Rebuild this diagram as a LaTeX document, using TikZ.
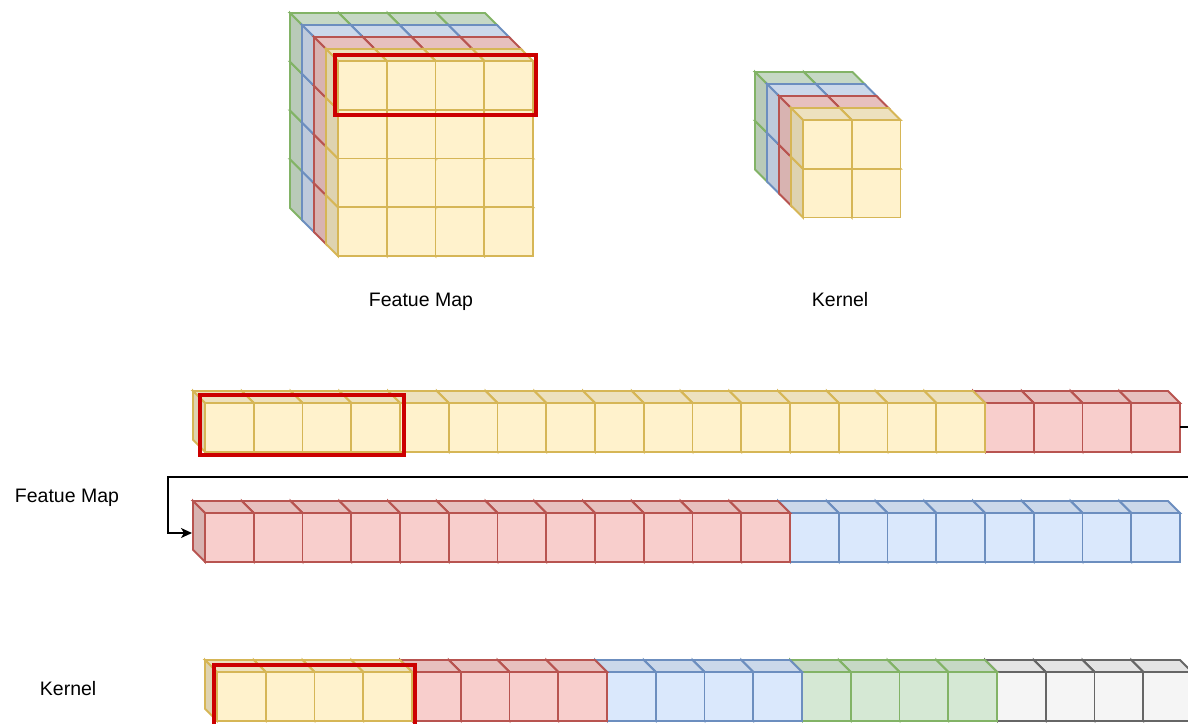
\documentclass[tikz,border=0pt]{standalone}
\usepackage{fontspec}
\setmainfont{Liberation Sans}
\usepackage{tikz}
\usetikzlibrary{arrows, arrows.meta}
\definecolor{yellowfill}{HTML}{FFF2CC}
\definecolor{yellowline}{HTML}{D6B656}
\definecolor{redfill}{HTML}{F8CECC}
\definecolor{redline}{HTML}{B85450}
\definecolor{bluefill}{HTML}{DAE8FC}
\definecolor{blueline}{HTML}{6C8EBF}
\definecolor{greenfill}{HTML}{D5E8D4}
\definecolor{greenline}{HTML}{82B366}
\definecolor{grayfill}{HTML}{F5F5F5}
\definecolor{grayline}{HTML}{666666}
\definecolor{hilite}{HTML}{CC0000}
% one cell: front top-left corner x, y, colour name
\newcommand{\cubecell}[3]{%
  \draw[draw=#3line, fill=#3fill!93!black] ({#1},{#2}) -- ++(-12,-12) -- ++(48.75,0) -- ++(12,12) -- cycle;
  \draw[draw=#3line, fill=#3fill!87!black] ({#1},{#2}) -- ++(-12,-12) -- ++(0,48.75) -- ++(12,12) -- cycle;
  \draw[draw=#3line, fill=#3fill] ({#1},{#2}) rectangle ++(48.75,48.75);}

\begin{document}
\begin{tikzpicture}[x=1pt, y=-1pt, line width=1.9pt,
    lbl/.style={font=\fontsize{19.5}{23}\selectfont, inner sep=0pt, anchor=base west},
    frame/.style={draw=hilite, line width=3.8pt}]
    \useasboundingbox (0,0) rectangle (1188,723);
    \clip (0,0) rectangle (1188,723);

    % feature map cube
    \foreach \k/\c in {0/green,1/blue,2/red,3/yellow}
      \foreach \r in {3,2,1,0}
        \foreach \j in {3,2,1,0}
          {\cubecell{302+12*\k+48.75*\j}{25+12*\k+48.75*\r}{\c}}
    \draw[frame] (335,55) rectangle (536,115);

    % kernel cube
    \foreach \k/\c in {0/green,1/blue,2/red,3/yellow}
      \foreach \r in {1,0}
        \foreach \j in {1,0}
          {\cubecell{767+12*\k+48.75*\j}{84+12*\k+48.75*\r}{\c}}

    \node[lbl] (fmTop) at (368,306) {Featue Map};
    \node[lbl] (knTop) at (811,306) {Kernel};

    % flattened feature map
    \foreach \i in {19,18,17,16} {\cubecell{205+48.75*\i}{403}{red}}
    \foreach \i in {15,...,0} {\cubecell{205+48.75*\i}{403}{yellow}}
    \draw[frame] (200,395) rectangle (404,455);

    \foreach \i in {19,...,12} {\cubecell{205+48.75*\i}{513}{blue}}
    \foreach \i in {11,...,0} {\cubecell{205+48.75*\i}{513}{red}}

    \coordinate (rowAend) at (1180,427);
    \coordinate (rowBstart) at (192,533);
    \draw[line width=1.4pt, -{Stealth[length=11pt,width=10pt,inset=3pt]}]
      (rowAend) -- (1210,427) |- (168,477) |- (rowBstart);

    \node[lbl] (fmLeft) at (14,502) {Featue Map};

    % flattened kernel
    \foreach \g/\c in {4/gray,3/green,2/blue,1/red,0/yellow}
      \foreach \j in {3,2,1,0}
        {\cubecell{217+48.75*(4*\g+\j)}{672}{\c}}
    \draw[frame] (214,665) rectangle (415,740);

    \node[lbl] (knLeft) at (39,695) {Kernel};
\end{tikzpicture}
\end{document}
